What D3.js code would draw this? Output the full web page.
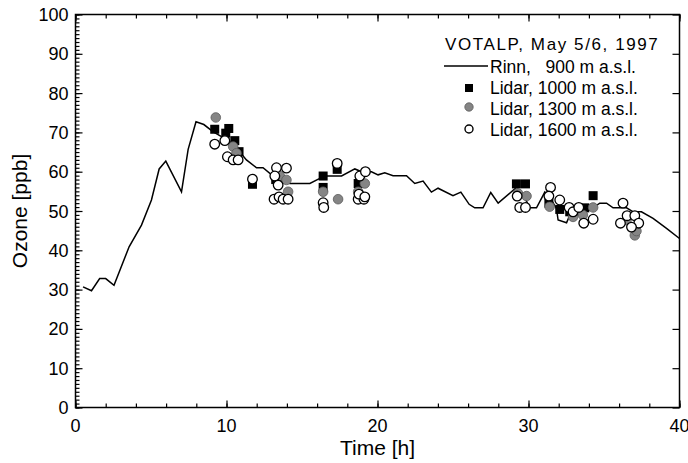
<!DOCTYPE html>
<html lang="en">
<head>
<meta charset="utf-8">
<script src="https://d3js.org/d3.v7.min.js"></script>
<style>
  html, body { margin:0; padding:0; background:#fff; overflow:hidden; }
  svg { display:block; }
  text { font-family: "Liberation Sans", Arial, sans-serif; fill:#000; }
</style>
</head>
<body>
<div id="chart"></div>

<script>
// Rinn station, 900 m a.s.l.  [time h, ozone ppb]
var rinnTime = [0.5,1.06,1.6,2.0,2.55,3.55,4.37,5.03,5.54,5.98,7.02,7.46,7.98,8.5,9.1,9.67,10.22,10.77,11.32,11.99,12.42,13.09,13.53,14.19,15.52,16.18,16.62,17.62,18.5,18.94,19.6,20.04,20.48,21.03,21.92,22.47,23.02,23.57,24.01,25.0,25.52,26.07,26.44,26.99,27.5,27.99,29.2,29.6,30.09,30.53,31.08,31.4,31.85,31.96,32.52,32.74,33.4,34.07,34.72,35.17,35.6,36.49,36.93,37.48,38.25,39.14,40.0]
var rinnOzone = [30.7,29.7,32.8,32.8,31.1,40.9,46.4,52.8,60.7,62.7,54.9,65.7,72.7,72.0,70.2,68.9,67.6,65.5,63.0,61.0,61.0,58.9,57.9,57.0,57.0,58.3,58.9,58.9,60.7,60.0,60.0,59.2,59.7,59.0,59.0,57.0,57.6,54.8,55.8,53.9,54.8,51.7,50.8,50.8,54.7,52.0,56.0,54.5,50.8,50.8,54.8,53.5,50.7,47.7,47.0,49.0,49.0,50.3,52.0,52.0,50.8,50.8,49.8,49.8,48.1,45.6,43.0]

// Lidar 1000 m a.s.l.
var lidar1000Time = [9.22,9.95,10.15,10.55,10.83,11.72,13.26,16.4,16.4,17.33,18.72,29.2,29.8,31.35,32.07,32.73,33.73,34.28]
var lidar1000Ozone = [70.8,69.8,71.0,67.9,65.1,56.8,58.0,56.0,58.9,60.6,57.0,56.9,56.9,52.0,50.4,49.8,50.8,53.9]

// Lidar 1300 m a.s.l.
var lidar1300Time = [9.29,10.44,10.66,13.53,13.97,14.08,16.4,17.39,18.72,19.16,29.3,29.87,31.4,32.95,33.6,34.28,36.49,37.04,37.15]
var lidar1300Ozone = [73.8,66.4,64.7,58.9,57.9,54.9,54.9,53.0,54.9,57.0,54.5,53.8,51.1,48.5,49.0,50.9,47.7,43.8,44.9]

// Lidar 1600 m a.s.l.
var lidar1600Time = [9.22,9.89,10.06,10.44,10.77,11.72,13.31,13.97,13.2,13.42,13.15,13.48,13.75,14.08,16.4,16.44,17.33,18.72,19.1,18.83,19.2,18.77,19.16,29.25,29.42,29.8,31.46,31.35,32.07,32.69,32.95,33.33,33.66,34.28,36.26,36.09,36.53,37.04,37.3,36.82]
var lidar1600Ozone = [67.0,67.9,63.8,63.0,63.0,58.1,61.0,60.9,58.9,56.6,53.0,53.6,53.0,53.0,52.1,50.9,62.1,53.0,53.0,58.9,60.0,54.3,53.6,53.8,50.9,50.9,56.0,53.8,52.8,50.9,49.8,50.9,46.9,47.9,52.0,46.9,48.8,48.8,46.9,45.9]

var xTicks = [0,10,20,30,40]
var yTicks = [0,10,20,30,40,50,60,70,80,90,100]

var W = 688, H = 463
var pL = 75.5, pR = 679.5, pT = 14.5, pB = 407.5

var svg = d3.select('#chart').append('svg')
  .attr('width', W).attr('height', H)

var x = d3.scaleLinear().domain([0,40]).range([pL,pR])
var y = d3.scaleLinear().domain([0,100]).range([pB,pT])

// ticks drawn by the axis generators, labels separately
var axisStyle = function(g){ g.select('.domain').remove(); g.selectAll('.tick line').attr('stroke','#000').attr('stroke-width',1.2); g.selectAll('.tick text').remove() }

svg.append('g').attr('transform','translate(0,'+pB+')')
  .call(d3.axisBottom(x).tickValues(d3.range(0,41,2)).tickSize(-4)).call(axisStyle)
svg.append('g').attr('transform','translate(0,'+pB+')')
  .call(d3.axisBottom(x).tickValues(xTicks).tickSize(-7)).call(axisStyle)
svg.append('g').attr('transform','translate(0,'+pT+')')
  .call(d3.axisTop(x).tickValues(d3.range(0,41,2)).tickSize(-4)).call(axisStyle)
svg.append('g').attr('transform','translate(0,'+pT+')')
  .call(d3.axisTop(x).tickValues(xTicks).tickSize(-7)).call(axisStyle)
svg.append('g').attr('transform','translate('+pL+',0)')
  .call(d3.axisLeft(y).tickValues(d3.range(0,101,1)).tickSize(-4)).call(axisStyle)
svg.append('g').attr('transform','translate('+pL+',0)')
  .call(d3.axisLeft(y).tickValues(yTicks).tickSize(-7)).call(axisStyle)
svg.append('g').attr('transform','translate('+pR+',0)')
  .call(d3.axisRight(y).tickValues(yTicks).tickSize(-7)).call(axisStyle)

// frame
svg.append('rect').attr('x',pL).attr('y',pT).attr('width',pR-pL).attr('height',pB-pT)
  .attr('fill','none').attr('stroke','#000').attr('stroke-width',1.5)

svg.append('g').selectAll('text').data(xTicks).enter().append('text')
  .attr('x', function(d){return x(d)}).attr('y', pB+24)
  .attr('text-anchor','middle').attr('font-size',18).text(function(d){return d})
svg.append('g').selectAll('text').data(yTicks).enter().append('text')
  .attr('x', pL-7).attr('y', function(d){return y(d)+6.5})
  .attr('text-anchor','end').attr('font-size',18).text(function(d){return d})

svg.append('text').attr('x', (pL+pR)/2).attr('y', 455)
  .attr('text-anchor','middle').attr('font-size',21).text('Time [h]')
svg.append('text').attr('transform','translate(27,'+((pT+pB)/2)+') rotate(-90)')
  .attr('text-anchor','middle').attr('font-size',21).text('Ozone [ppb]')

// Rinn line
var rinn = rinnTime.map(function(t,i){ return [t, rinnOzone[i]] })
svg.append('path').datum(rinn)
  .attr('d', d3.line().x(function(d){return x(d[0])}).y(function(d){return y(d[1])}))
  .attr('fill','none').attr('stroke','#000').attr('stroke-width',1.5)

// lidar markers
var sq = lidar1000Time.map(function(t,i){ return [t, lidar1000Ozone[i]] })
svg.append('g').selectAll('rect').data(sq).enter().append('rect')
  .attr('x', function(d){return x(d[0])-4.5}).attr('y', function(d){return y(d[1])-4.5})
  .attr('width',9).attr('height',9).attr('fill','#000')

var gr = lidar1300Time.map(function(t,i){ return [t, lidar1300Ozone[i]] })
svg.append('g').selectAll('circle').data(gr).enter().append('circle')
  .attr('cx', function(d){return x(d[0])}).attr('cy', function(d){return y(d[1])})
  .attr('r',4.8).attr('fill','#858585').attr('stroke','#5a5a5a').attr('stroke-width',0.8)

var op = lidar1600Time.map(function(t,i){ return [t, lidar1600Ozone[i]] })
svg.append('g').selectAll('circle').data(op).enter().append('circle')
  .attr('cx', function(d){return x(d[0])}).attr('cy', function(d){return y(d[1])})
  .attr('r',4.8).attr('fill','#fff').attr('stroke','#000').attr('stroke-width',1.3)

// legend
var lg = svg.append('g')
lg.append('text').attr('x',445).attr('y',50).attr('font-size',17)
  .attr('letter-spacing',1.6).text('VOTALP, May 5/6, 1997')
lg.append('line').attr('x1',444).attr('x2',488).attr('y1',66).attr('y2',66)
  .attr('stroke','#000').attr('stroke-width',1.4)
lg.append('rect').attr('x',465).attr('y',84).attr('width',8).attr('height',8).attr('fill','#000')
lg.append('circle').attr('cx',469).attr('cy',107).attr('r',4.2).attr('fill','#858585').attr('stroke','#5a5a5a').attr('stroke-width',0.8)
lg.append('circle').attr('cx',469).attr('cy',129).attr('r',4).attr('fill','#fff').attr('stroke','#000').attr('stroke-width',1.4)
var labels = ['Rinn,   900 m a.s.l.','Lidar, 1000 m a.s.l.','Lidar, 1300 m a.s.l.','Lidar, 1600 m a.s.l.']
lg.selectAll('text.l').data(labels).enter().append('text').attr('class','l')
  .attr('x',490).attr('y', function(d,i){return 72.5+i*21})
  .attr('font-size',17.5).style('white-space','pre').text(function(d){return d})
</script>
</body>
</html>
